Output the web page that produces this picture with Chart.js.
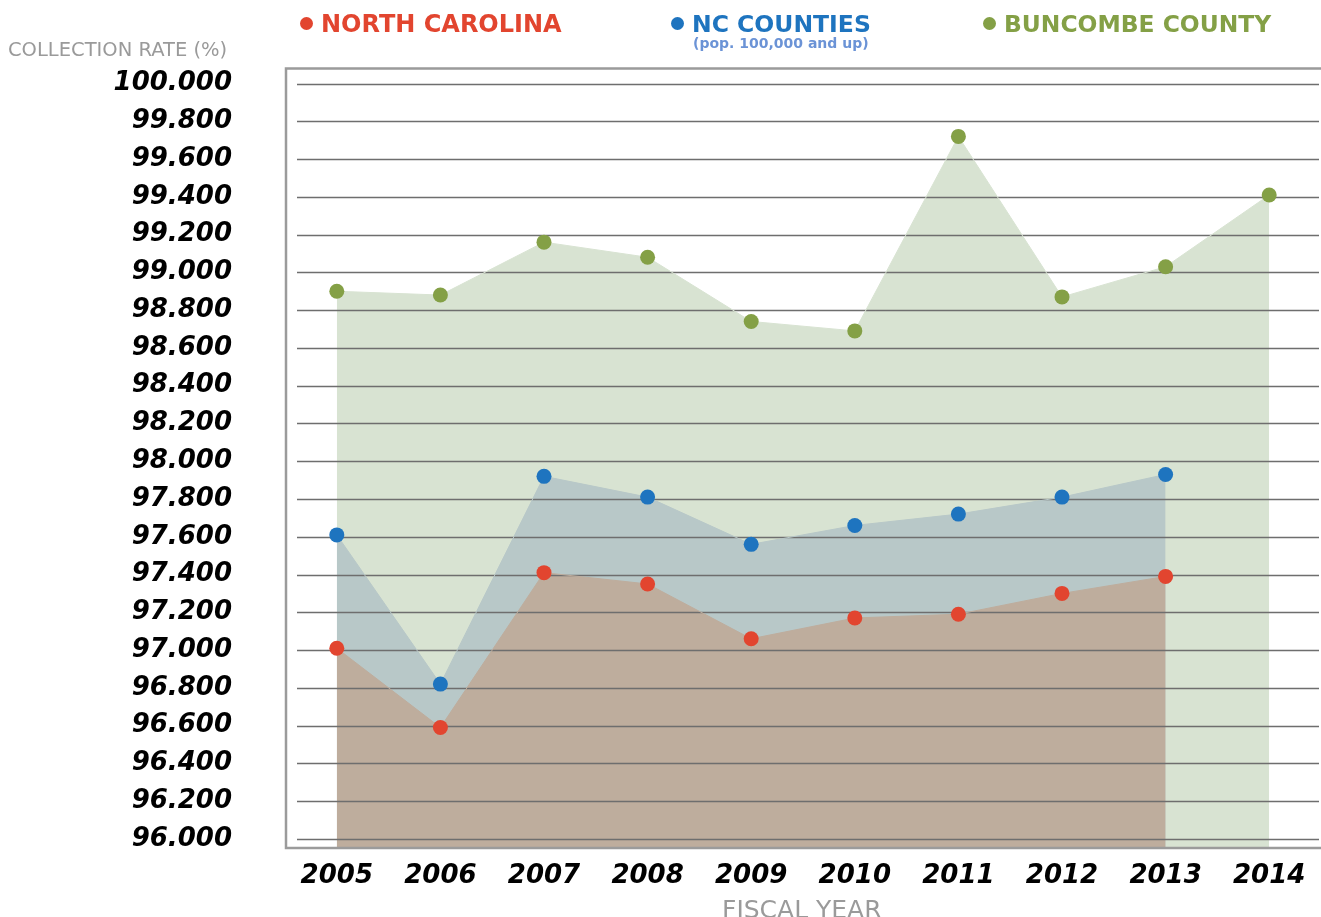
<!DOCTYPE html>
<html>
<head>
<meta charset="utf-8">
<script src="https://cdn.jsdelivr.net/npm/chart.js@4/dist/chart.umd.min.js"></script>
<style>
  html, body { margin: 0; background: #fff; overflow: hidden; }
  #wrap { position: relative; width: 1321px; height: 917px; overflow: hidden; font-family: "DejaVu Sans", sans-serif; }
  #myChart { position: absolute; left: 0; top: 0; }
  .leg { position: absolute; top: 10px; font-weight: bold; font-size: 24px; line-height: 28px; white-space: nowrap; }
  .leg .dot { display: inline-block; width: 13px; height: 13px; border-radius: 50%; margin-right: 8px; vertical-align: 2px; }
  .sub { position: absolute; font-weight: bold; font-size: 14px; color: #6b93d6; white-space: nowrap; }
  .axis-title { position: absolute; color: #9a9a9a; white-space: nowrap; line-height: 1; }
</style>
</head>
<body>
<div id="wrap">
  <canvas id="myChart" width="1321" height="917"></canvas>
  <div class="leg" style="left:300px;color:#e2452f"><span class="dot" style="background:#e2452f"></span>NORTH CAROLINA</div>
  <div class="leg" style="left:671px;font-size:23.5px;color:#1e74bf"><span class="dot" style="background:#1e74bf"></span>NC COUNTIES</div>
  <div class="sub" style="left:693px;top:35px">(pop. 100,000 and up)</div>
  <div class="leg" style="left:983px;font-size:23.4px;color:#84a046"><span class="dot" style="background:#84a046"></span>BUNCOMBE COUNTY</div>
  <div class="axis-title" style="left:8px;top:40px;font-size:19.5px">COLLECTION RATE (%)</div>
  <div class="axis-title" style="left:722px;top:897px;font-size:25px">FISCAL YEAR</div>
</div>
<script>
// fiscal years on the x axis
const years = ['2005', '2006', '2007', '2008', '2009', '2010', '2011', '2012', '2013', '2014']
// collection rates (%)
const northCarolina = [97.01, 96.59, 97.41, 97.35, 97.06, 97.17, 97.19, 97.30, 97.39]
const ncCounties = [97.61, 96.82, 97.92, 97.81, 97.56, 97.66, 97.72, 97.81, 97.93]
const buncombe = [98.90, 98.88, 99.16, 99.08, 98.74, 98.69, 99.72, 98.87, 99.03, 99.41]
// y tick labels
const yTicks = [96, 96.2, 96.4, 96.6, 96.8, 97, 97.2, 97.4, 97.6, 97.8, 98, 98.2, 98.4, 98.6, 98.8, 99, 99.2, 99.4, 99.6, 99.8, 100]

const tickFont = { family: 'DejaVu Sans', size: 26, weight: 'bold', style: 'italic' }

// grid lines sit on top of the fills but below the points
const gridPlugin = {
  id: 'gridLines',
  beforeDatasetsDraw(chart) {
    const ctx = chart.ctx
    const y = chart.scales.y
    const area = chart.chartArea
    ctx.save()
    ctx.strokeStyle = '#6e6e6e'
    ctx.lineWidth = 1.3
    yTicks.forEach(v => {
      const py = Math.round(y.getPixelForValue(v)) + 0.5
      ctx.beginPath()
      ctx.moveTo(area.left + 12, py)
      ctx.lineTo(area.right - 2, py)
      ctx.stroke()
    })
    ctx.restore()
  },
  afterDraw(chart) {
    // grey frame: left, top and bottom
    const ctx = chart.ctx
    const a = chart.chartArea
    ctx.save()
    ctx.strokeStyle = '#9b9b9b'
    ctx.lineWidth = 2.5
    ctx.beginPath()
    ctx.moveTo(a.right, a.top)
    ctx.lineTo(a.left + 1, a.top)
    ctx.lineTo(a.left + 1, a.bottom)
    ctx.lineTo(a.right, a.bottom)
    ctx.stroke()
    ctx.restore()
  }
}

function series(data, color, fillColor, order) {
  return {
    data: data,
    order: order,
    fill: 'start',
    backgroundColor: fillColor,
    borderColor: fillColor,
    borderWidth: 1,
    tension: 0,
    pointRadius: 7.5,
    pointBorderWidth: 0,
    pointBackgroundColor: color,
    pointHoverRadius: 7.5
  }
}

const ctx = document.getElementById('myChart')
new Chart(ctx, {
  type: 'line',
  data: {
    labels: years,
    datasets: [
      series(northCarolina, '#e2452f', '#bead9d', 0),
      series(ncCounties, '#1e74bf', '#b8c8c8', 1),
      series(buncombe, '#84a046', '#d8e3d2', 2)
    ]
  },
  options: {
    responsive: false,
    animation: false,
    layout: { autoPadding: false, padding: { top: 67, left: 0, right: 0, bottom: 0 } },
    plugins: {
      legend: { display: false },
      tooltip: { enabled: false },
      filler: { drawTime: 'beforeDatasetsDraw' }
    },
    scales: {
      x: {
        type: 'category',
        offset: true,
        grid: { display: false, drawTicks: false },
        border: { display: false },
        ticks: { color: '#000', font: tickFont, padding: 13, maxRotation: 0, autoSkip: false },
        afterFit(scale) {
          scale.height = 69
          scale.paddingLeft = 0
          scale.paddingRight = 0
        }
      },
      y: {
        min: 95.952,
        max: 100.079,
        grid: { display: false, drawTicks: false },
        border: { display: false },
        ticks: {
          color: '#000',
          font: tickFont,
          padding: 53,
          callback: v => Number(v).toFixed(3)
        },
        afterBuildTicks(scale) { scale.ticks = yTicks.map(v => ({ value: v })) },
        afterFit(scale) { scale.width = 285 }
      }
    }
  },
  plugins: [gridPlugin]
})
</script>
</body>
</html>
